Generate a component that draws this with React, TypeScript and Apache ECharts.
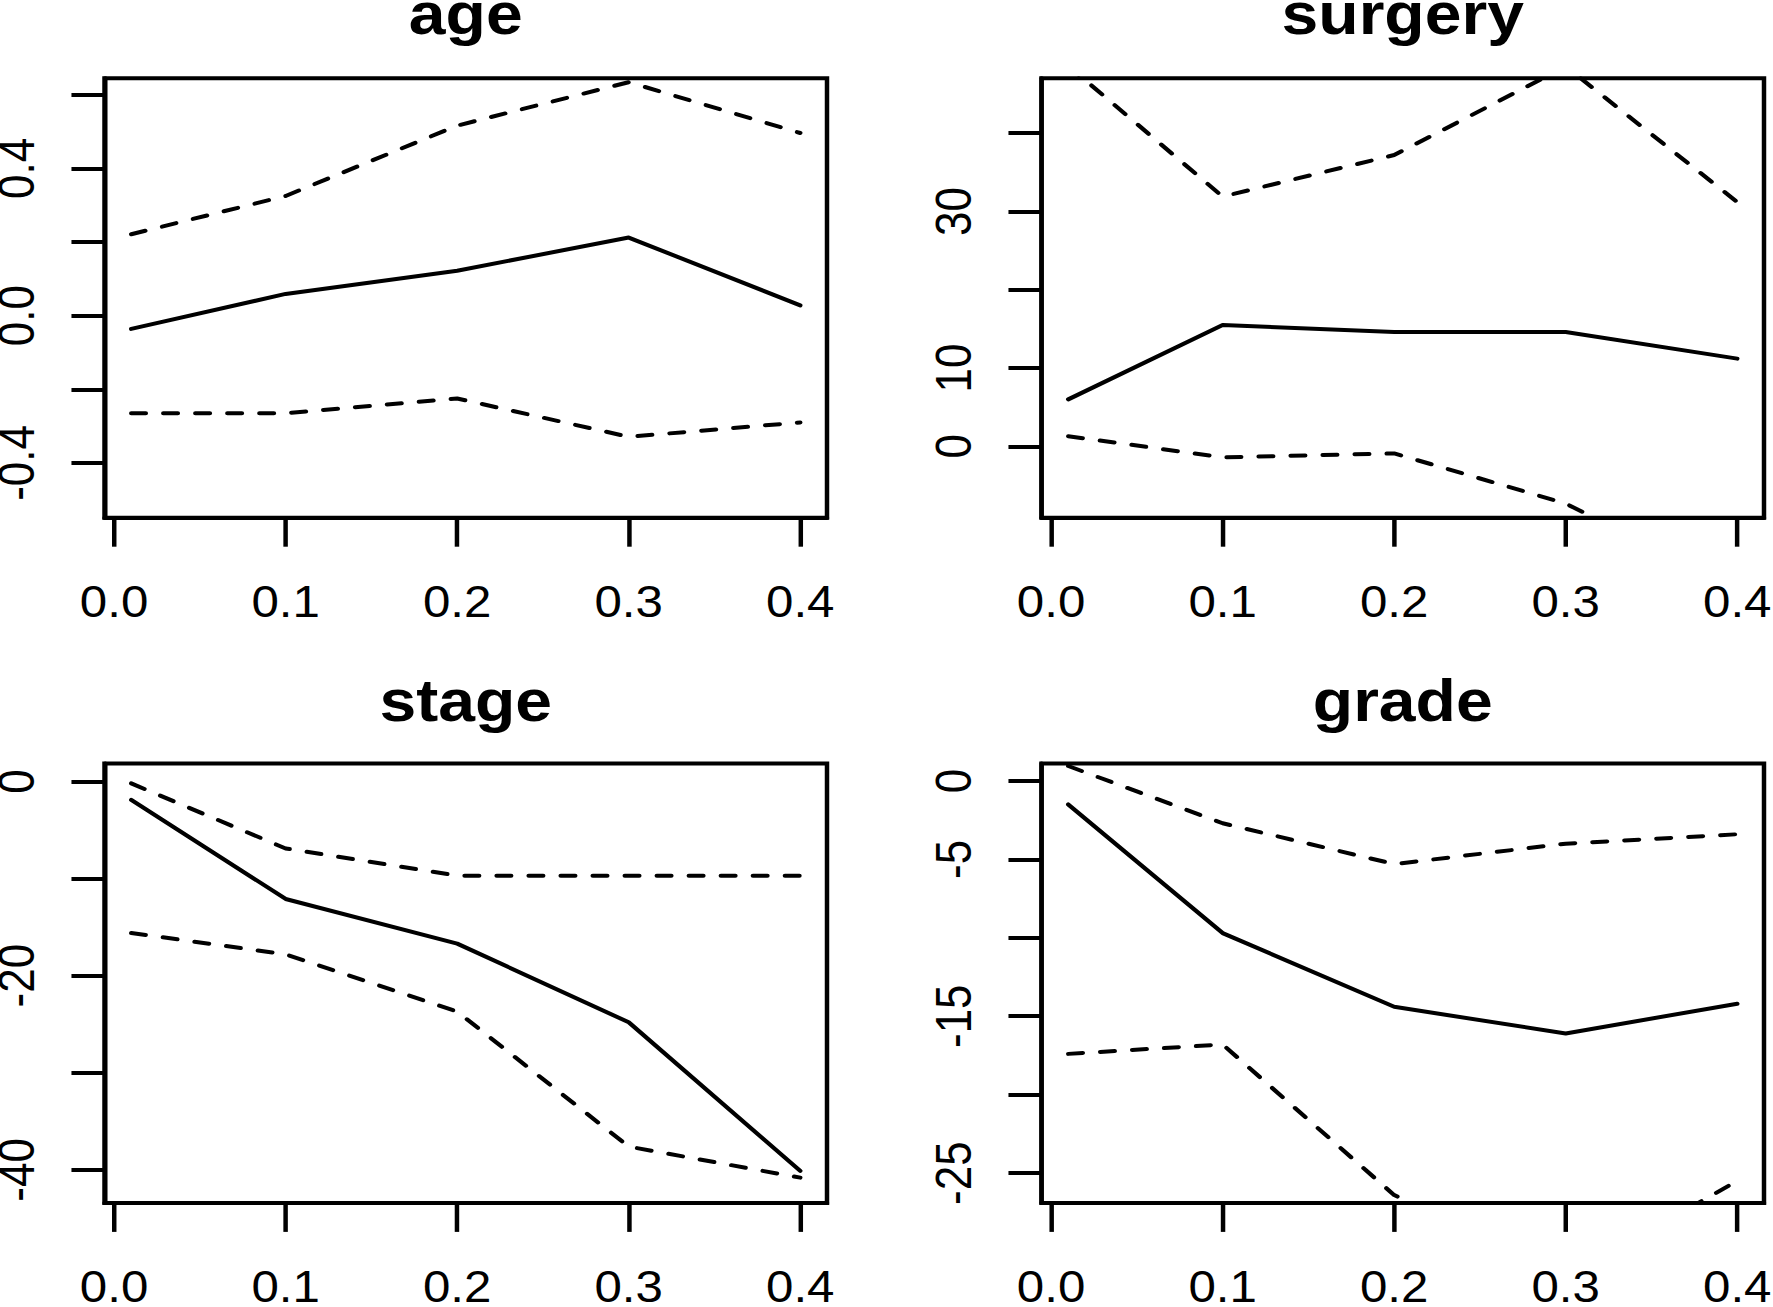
import React, { useEffect, useRef } from "react";
import * as echarts from "echarts";

// ---- data ----
const X = [0.01, 0.1, 0.2, 0.3, 0.4];
const X_TICKS = [0, 0.1, 0.2, 0.3, 0.4];

const PANEL_TITLES = ["age", "surgery", "stage", "grade"];

const AGE_EST = [-0.036, 0.059, 0.122, 0.212, 0.028];
const AGE_UPPER = [0.221, 0.325, 0.516, 0.634, 0.496];
const AGE_LOWER = [-0.265, -0.265, -0.225, -0.329, -0.29];

const SURGERY_EST = [6.0, 15.5, 14.6, 14.6, 11.2];
const SURGERY_UPPER = [48.6, 31.9, 37.2, 48.5, 31.2];
const SURGERY_LOWER = [1.3, -1.4, -0.9, -7.3, -18.3];

const STAGE_EST = [-1.9, -12.1, -16.7, -24.8, -40.1];
const STAGE_UPPER = [-0.2, -6.9, -9.7, -9.7, -9.7];
const STAGE_LOWER = [-15.6, -17.8, -23.7, -37.6, -40.8];

const GRADE_EST = [-1.5, -9.7, -14.4, -16.1, -14.2];
const GRADE_UPPER = [0.95, -2.7, -5.3, -4.0, -3.4];
const GRADE_LOWER = [-17.4, -16.8, -26.4, -31.7, -25.5];

const AGE_TICKS = [-0.4, -0.2, 0, 0.2, 0.4, 0.6];
const AGE_LABELS = [-0.4, 0, 0.4];
const SURGERY_TICKS = [0, 10, 20, 30, 40];
const SURGERY_LABELS = [0, 10, 30];
const STAGE_TICKS = [-40, -30, -20, -10, 0];
const STAGE_LABELS = [-40, -20, 0];
const GRADE_TICKS = [-25, -20, -15, -10, -5, 0];
const GRADE_LABELS = [-25, -15, -5, 0];

const Y_RANGES = [
  [-0.5487, 0.6445],
  [-9.11, 47.0],
  [-43.4, 1.85],
  [-26.9, 1.11],
];
const X_RANGE = [-0.0056, 0.4156];

const panels = [
  { est: AGE_EST, upper: AGE_UPPER, lower: AGE_LOWER, ticks: AGE_TICKS, labels: AGE_LABELS, dec: 1 },
  { est: SURGERY_EST, upper: SURGERY_UPPER, lower: SURGERY_LOWER, ticks: SURGERY_TICKS, labels: SURGERY_LABELS, dec: 0 },
  { est: STAGE_EST, upper: STAGE_UPPER, lower: STAGE_LOWER, ticks: STAGE_TICKS, labels: STAGE_LABELS, dec: 0 },
  { est: GRADE_EST, upper: GRADE_UPPER, lower: GRADE_LOWER, ticks: GRADE_TICKS, labels: GRADE_LABELS, dec: 0 },
];

// ---- layout (the original figure is stretched horizontally) ----
const STRETCH = 1.12;
const PAGE_W = 1773;
const PAGE_H = 1307;
const BASE_W = PAGE_W / STRETCH;
const GRID_LEFTS = [104.5 / STRETCH, 1041.5 / STRETCH];
const GRID_TOPS = [78.3, 763.5];
const GRID_W = 722.5 / STRETCH;
const GRID_H = 439.4;
const TITLE_Y = [13, 700];
const FONT = '"Liberation Sans", Arial, Helvetica, sans-serif';
const LABEL_SIZE = 44;
const TITLE_SIZE = 59;
const LW = 4;

export default function App() {
  const ref = useRef<HTMLDivElement>(null);

  useEffect(() => {
    if (!ref.current) return;
    const chart = echarts.init(ref.current, null, { renderer: "svg" });

    const grids: any[] = [];
    const xAxes: any[] = [];
    const yAxes: any[] = [];
    const series: any[] = [];
    const graphics: any[] = [];

    panels.forEach((p, i) => {
      const col = i % 2;
      const row = Math.floor(i / 2);
      const left = GRID_LEFTS[col];
      const top = GRID_TOPS[row];
      grids.push({
        left,
        top,
        width: GRID_W,
        height: GRID_H,
        show: true,
        borderColor: "#000",
        borderWidth: LW,
        backgroundColor: "transparent",
        containLabel: false,
        outerBoundsMode: "none",
      });
      xAxes.push({
        type: "value",
        gridIndex: i,
        min: X_RANGE[0],
        max: X_RANGE[1],
        axisLine: { show: true, onZero: false, lineStyle: { color: "#000", width: LW } },
        axisTick: {
          show: true,
          length: 29,
          customValues: X_TICKS,
          lineStyle: { color: "#000", width: LW },
        },
        axisLabel: {
          show: true,
          customValues: X_TICKS,
          formatter: (v: number) => v.toFixed(1),
          fontSize: LABEL_SIZE,
          fontFamily: FONT,
          color: "#000",
          margin: 62,
        },
        splitLine: { show: false },
      });
      yAxes.push({
        type: "value",
        gridIndex: i,
        min: Y_RANGES[i][0],
        max: Y_RANGES[i][1],
        axisLine: { show: true, onZero: false, lineStyle: { color: "#000", width: LW } },
        axisTick: {
          show: true,
          length: 29.5,
          customValues: p.ticks,
          lineStyle: { color: "#000", width: LW },
        },
        axisLabel: {
          show: true,
          customValues: p.labels,
          formatter: (v: number) => v.toFixed(p.dec),
          rotate: 90,
          fontSize: LABEL_SIZE,
          fontFamily: FONT,
          color: "#000",
          margin: 56,
        },
        splitLine: { show: false },
      });
      const mk = (vals: number[], dashed: boolean) => ({
        type: "line",
        xAxisIndex: i,
        yAxisIndex: i,
        data: X.map((x, k) => [x, vals[k]]),
        symbol: "none",
        clip: true,
        lineStyle: {
          color: "#000",
          width: LW,
          type: dashed ? [13, 15.6] : "solid",
          cap: "round",
          join: "round",
        },
      });
      series.push(mk(p.est, false), mk(p.upper, true), mk(p.lower, true));
      graphics.push({
        type: "text",
        x: left + GRID_W / 2,
        y: TITLE_Y[row],
        style: {
          text: PANEL_TITLES[i],
          fontSize: TITLE_SIZE,
          fontWeight: "bold",
          fontFamily: FONT,
          fill: "#000",
          align: "center",
          verticalAlign: "middle",
        },
      });
    });

    chart.setOption({
      animation: false,
      backgroundColor: "#fff",
      grid: grids,
      xAxis: xAxes,
      yAxis: yAxes,
      series,
      graphic: graphics,
    });

    return () => chart.dispose();
  }, []);

  return (
    <div style={{ position: "absolute", left: 0, top: 0, width: PAGE_W, height: PAGE_H, overflow: "hidden" }}>
      <div
        ref={ref}
        style={{
          position: "absolute",
          left: 0,
          top: 0,
          width: BASE_W,
          height: PAGE_H,
          transform: `scaleX(${STRETCH})`,
          transformOrigin: "0 0",
        }}
      />
    </div>
  );
}
